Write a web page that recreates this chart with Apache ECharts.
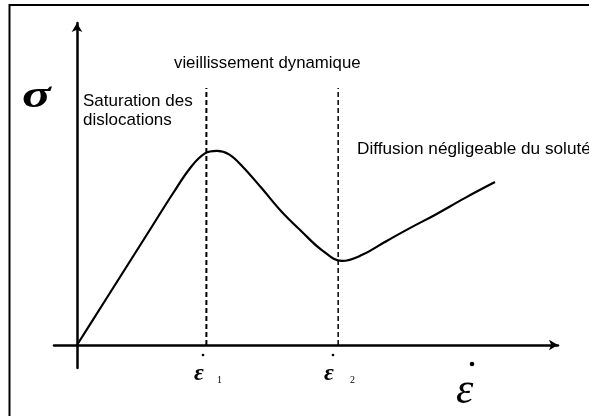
<!DOCTYPE html>
<html>
<head>
<meta charset="utf-8">
<script src="https://cdn.jsdelivr.net/npm/echarts@6/dist/echarts.min.js"></script>
<style>
html, body { margin: 0; padding: 0; background: #fff; }
#chart { width: 589px; height: 416px; }
</style>
</head>
<body>
<div id="chart"></div>
<script>
// courbe contrainte / vitesse de deformation (unites arbitraires)
var strainRate = [0, 5.0, 10.0, 15.0, 20.0, 23.7, 26.6, 29.1, 31.6, 34.5, 38.5, 42.6, 46.8, 50.9, 55.1, 59.3, 64.0, 69.2, 74.4, 80.7, 86.9];
var stress     = [0, 11.8, 23.6, 35.4, 47.2, 55.3, 59.5, 60.3, 59.2, 55.3, 48.5, 41.3, 35.1, 29.5, 26.1, 28.0, 32.0, 36.3, 40.4, 45.7, 50.6];
// positions des traits pointilles
var eps1 = 26.9;
var eps2 = 54.3;
var dashTop = 79.8;

var curve = strainRate.map(function (x, i) { return [x, stress[i]]; });

var chart = echarts.init(document.getElementById('chart'));

var axisStyle = {
    type: 'value',
    axisLine: {
        onZero: true,
        symbol: ['none', 'arrow'],
        symbolSize: [8, 9],
        lineStyle: { color: '#000', width: 2.5 }
    },
    axisTick: { show: false },
    axisLabel: { show: false },
    splitLine: { show: false }
};

var sans = '"Liberation Sans", Arial, sans-serif';
var serif = '"Liberation Serif", "Times New Roman", serif';

var option = {
    animation: false,
    backgroundColor: '#fff',
    grid: { left: 54, right: 31, top: 23, bottom: 48 },
    xAxis: Object.assign({}, axisStyle, { min: -4.78, max: 100 }),
    yAxis: Object.assign({}, axisStyle, { min: -7.14, max: 100 }),
    series: [
        {
            type: 'line',
            data: curve,
            smooth: 0.4,
            symbol: 'none',
            lineStyle: { color: '#000', width: 2.2 }
        },
        {
            type: 'line',
            data: [[eps1, 0], [eps1, dashTop]],
            symbol: 'none',
            lineStyle: { color: '#000', width: 2, type: [5, 3] }
        },
        {
            type: 'line',
            data: [[eps2, 0], [eps2, dashTop]],
            symbol: 'none',
            lineStyle: { color: '#000', width: 1.5, type: [5, 3] }
        }
    ],
    graphic: [
        // cadre
        { type: 'polyline', shape: { points: [[9.5, 416], [9.5, 5], [589, 5]] },
          style: { stroke: '#000', lineWidth: 2, fill: null } },
        // textes
        { type: 'text', x: 22, y: 97, scaleX: 1.4, style: { text: 'σ', font: 'italic bold 38px ' + serif, fill: '#000', verticalAlign: 'middle' } },
        { type: 'text', x: 83, y: 101, style: { text: 'Saturation des', font: '17px ' + sans, fill: '#000', verticalAlign: 'middle' } },
        { type: 'text', x: 83, y: 120, style: { text: 'dislocations', font: '17px ' + sans, fill: '#000', verticalAlign: 'middle' } },
        { type: 'text', x: 174, y: 63, style: { text: 'vieillissement dynamique', font: '16.8px ' + sans, fill: '#000', verticalAlign: 'middle' } },
        { type: 'text', x: 357, y: 149, style: { text: 'Diffusion négligeable du soluté', font: '17.2px ' + sans, fill: '#000', verticalAlign: 'middle' } },
        // epsilon 1
        { type: 'circle', shape: { cx: 203, cy: 355, r: 1.3 }, style: { fill: '#000' } },
        { type: 'text', x: 194, y: 374, style: { text: 'ε', font: 'italic bold 24px ' + serif, fill: '#000', verticalAlign: 'middle' } },
        { type: 'text', x: 217, y: 380, style: { text: '1', font: '10px ' + serif, fill: '#000', verticalAlign: 'middle' } },
        // epsilon 2
        { type: 'circle', shape: { cx: 333, cy: 355, r: 1.3 }, style: { fill: '#000' } },
        { type: 'text', x: 324, y: 374, style: { text: 'ε', font: 'italic bold 24px ' + serif, fill: '#000', verticalAlign: 'middle' } },
        { type: 'text', x: 350, y: 380, style: { text: '2', font: '10px ' + serif, fill: '#000', verticalAlign: 'middle' } },
        // vitesse de deformation
        { type: 'circle', shape: { cx: 472, cy: 364, r: 2.3 }, style: { fill: '#000' } },
        { type: 'text', x: 456, y: 391, style: { text: 'ε', font: 'italic 44px ' + serif, fill: '#000', verticalAlign: 'middle' } }
    ]
};

chart.setOption(option);
</script>
</body>
</html>
